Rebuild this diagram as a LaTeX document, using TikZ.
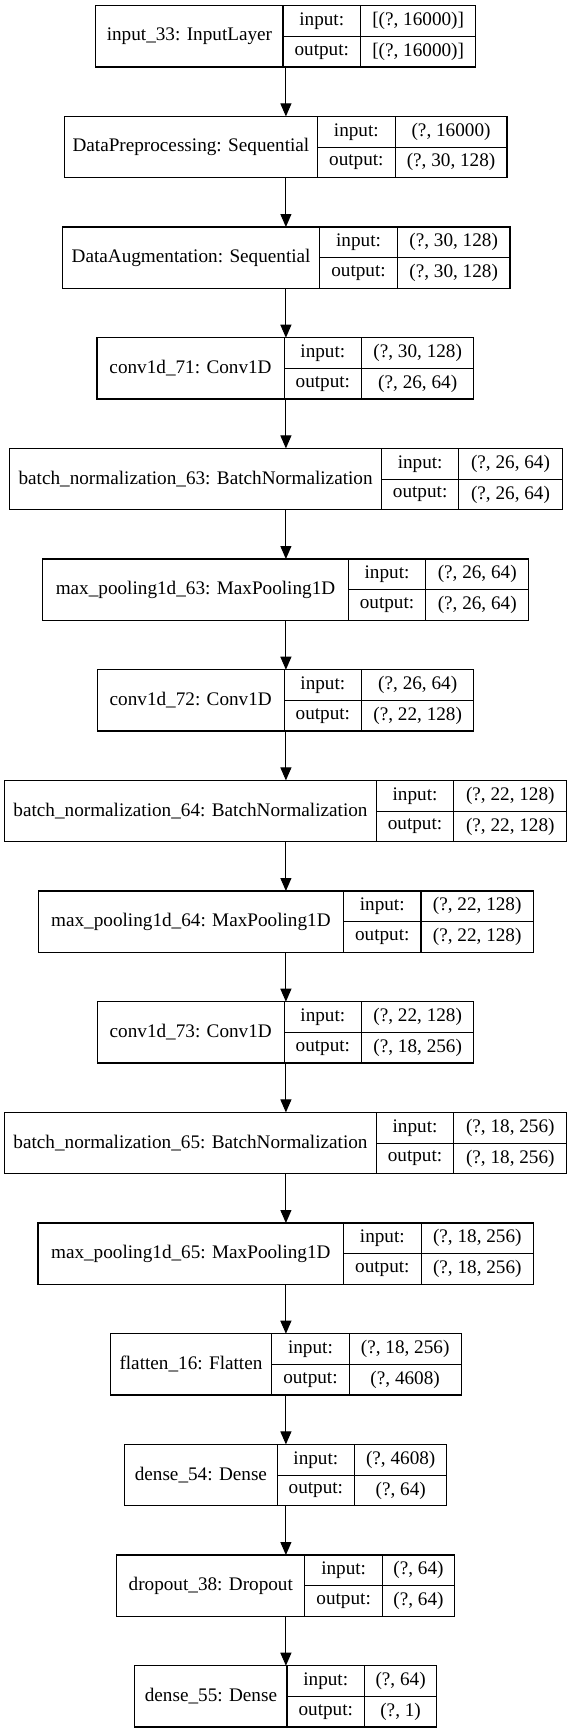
\documentclass[tikz,border=0pt]{standalone}
\usepackage{fontspec}
\setmainfont{Liberation Serif}
\usetikzlibrary{positioning,arrows.meta}

\begin{document}
\begin{tikzpicture}[x=1pt,y=-1pt,
        every node/.style={draw, line width=1.1pt, inner sep=0pt, outer sep=0pt,
            font=\fontsize{19.2}{23}\selectfont},
        layer/.style={anchor=north west, minimum height=61.3pt},
        lbl/.style={anchor=north west, minimum width=77.5pt, minimum height=30.65pt},
        val/.style={minimum height=30.65pt},
        arr/.style={-{Triangle[length=13pt,width=11pt]}, line width=1.1pt}]
        \useasboundingbox (0,0) rectangle (571,1733);
        \coordinate (axis) at (285.9,0);

        \node[layer, minimum width=187.1pt] (input) at (95.9,5.7) {input\_33: InputLayer};
        \node[lbl] (input-in) at (input.north east) {input:};
        \node[lbl, below=0pt of input-in] (input-out) {output:};
        \node[val, minimum width=115.3pt, right=0pt of input-in] (input-inv) {[(?, 16000)]};
        \node[val, minimum width=115.3pt, right=0pt of input-out] (input-outv) {[(?, 16000)]};

        \node[layer, minimum width=253.4pt] (prep) at (64.2,116.4) {DataPreprocessing: Sequential};
        \node[lbl] (prep-in) at (prep.north east) {input:};
        \node[lbl, below=0pt of prep-in] (prep-out) {output:};
        \node[val, minimum width=111.9pt, right=0pt of prep-in] (prep-inv) {(?, 16000)};
        \node[val, minimum width=111.9pt, right=0pt of prep-out] (prep-outv) {(?, 30, 128)};

        \node[layer, minimum width=257.4pt] (aug) at (62.4,227) {DataAugmentation: Sequential};
        \node[lbl] (aug-in) at (aug.north east) {input:};
        \node[lbl, below=0pt of aug-in] (aug-out) {output:};
        \node[val, minimum width=112.7pt, right=0pt of aug-in] (aug-inv) {(?, 30, 128)};
        \node[val, minimum width=112.7pt, right=0pt of aug-out] (aug-outv) {(?, 30, 128)};

        \node[layer, minimum width=187.1pt] (conva) at (97,337.7) {conv1d\_71: Conv1D};
        \node[lbl] (conva-in) at (conva.north east) {input:};
        \node[lbl, below=0pt of conva-in] (conva-out) {output:};
        \node[val, minimum width=112.2pt, right=0pt of conva-in] (conva-inv) {(?, 30, 128)};
        \node[val, minimum width=112.2pt, right=0pt of conva-out] (conva-outv) {(?, 26, 64)};

        \node[layer, minimum width=371.6pt] (bna) at (9.8,448.4) {batch\_normalization\_63: BatchNormalization};
        \node[lbl] (bna-in) at (bna.north east) {input:};
        \node[lbl, below=0pt of bna-in] (bna-out) {output:};
        \node[val, minimum width=103.2pt, right=0pt of bna-in] (bna-inv) {(?, 26, 64)};
        \node[val, minimum width=103.2pt, right=0pt of bna-out] (bna-outv) {(?, 26, 64)};

        \node[layer, minimum width=305.6pt] (poola) at (42.7,559) {max\_pooling1d\_63: MaxPooling1D};
        \node[lbl] (poola-in) at (poola.north east) {input:};
        \node[lbl, below=0pt of poola-in] (poola-out) {output:};
        \node[val, minimum width=102.8pt, right=0pt of poola-in] (poola-inv) {(?, 26, 64)};
        \node[val, minimum width=102.8pt, right=0pt of poola-out] (poola-outv) {(?, 26, 64)};

        \node[layer, minimum width=186.7pt] (convb) at (97.4,669.7) {conv1d\_72: Conv1D};
        \node[lbl] (convb-in) at (convb.north east) {input:};
        \node[lbl, below=0pt of convb-in] (convb-out) {output:};
        \node[val, minimum width=112.2pt, right=0pt of convb-in] (convb-inv) {(?, 26, 64)};
        \node[val, minimum width=112.2pt, right=0pt of convb-out] (convb-outv) {(?, 22, 128)};

        \node[layer, minimum width=371.6pt] (bnb) at (4.7,780.4) {batch\_normalization\_64: BatchNormalization};
        \node[lbl] (bnb-in) at (bnb.north east) {input:};
        \node[lbl, below=0pt of bnb-in] (bnb-out) {output:};
        \node[val, minimum width=113pt, right=0pt of bnb-in] (bnb-inv) {(?, 22, 128)};
        \node[val, minimum width=113pt, right=0pt of bnb-out] (bnb-outv) {(?, 22, 128)};

        \node[layer, minimum width=305.2pt] (poolb) at (38.3,891) {max\_pooling1d\_64: MaxPooling1D};
        \node[lbl] (poolb-in) at (poolb.north east) {input:};
        \node[lbl, below=0pt of poolb-in] (poolb-out) {output:};
        \node[val, minimum width=112.4pt, right=0pt of poolb-in] (poolb-inv) {(?, 22, 128)};
        \node[val, minimum width=112.4pt, right=0pt of poolb-out] (poolb-outv) {(?, 22, 128)};

        \node[layer, minimum width=186.7pt] (convc) at (97.4,1001.7) {conv1d\_73: Conv1D};
        \node[lbl] (convc-in) at (convc.north east) {input:};
        \node[lbl, below=0pt of convc-in] (convc-out) {output:};
        \node[val, minimum width=112.2pt, right=0pt of convc-in] (convc-inv) {(?, 22, 128)};
        \node[val, minimum width=112.2pt, right=0pt of convc-out] (convc-outv) {(?, 18, 256)};

        \node[layer, minimum width=371.6pt] (bnc) at (4.7,1112.4) {batch\_normalization\_65: BatchNormalization};
        \node[lbl] (bnc-in) at (bnc.north east) {input:};
        \node[lbl, below=0pt of bnc-in] (bnc-out) {output:};
        \node[val, minimum width=113pt, right=0pt of bnc-in] (bnc-inv) {(?, 18, 256)};
        \node[val, minimum width=113pt, right=0pt of bnc-out] (bnc-outv) {(?, 18, 256)};

        \node[layer, minimum width=305.6pt] (poolc) at (38,1223) {max\_pooling1d\_65: MaxPooling1D};
        \node[lbl] (poolc-in) at (poolc.north east) {input:};
        \node[lbl, below=0pt of poolc-in] (poolc-out) {output:};
        \node[val, minimum width=112.4pt, right=0pt of poolc-in] (poolc-inv) {(?, 18, 256)};
        \node[val, minimum width=112.4pt, right=0pt of poolc-out] (poolc-outv) {(?, 18, 256)};

        \node[layer, minimum width=161.5pt] (flat) at (110.2,1333.7) {flatten\_16: Flatten};
        \node[lbl] (flat-in) at (flat.north east) {input:};
        \node[lbl, below=0pt of flat-in] (flat-out) {output:};
        \node[val, minimum width=111.9pt, right=0pt of flat-in] (flat-inv) {(?, 18, 256)};
        \node[val, minimum width=111.9pt, right=0pt of flat-out] (flat-outv) {(?, 4608)};

        \node[layer, minimum width=152.4pt] (densea) at (124.7,1444.4) {dense\_54: Dense};
        \node[lbl] (densea-in) at (densea.north east) {input:};
        \node[lbl, below=0pt of densea-in] (densea-out) {output:};
        \node[val, minimum width=92.2pt, right=0pt of densea-in] (densea-inv) {(?, 4608)};
        \node[val, minimum width=92.2pt, right=0pt of densea-out] (densea-outv) {(?, 64)};

        \node[layer, minimum width=188.2pt] (drop) at (116.7,1555) {dropout\_38: Dropout};
        \node[lbl] (drop-in) at (drop.north east) {input:};
        \node[lbl, below=0pt of drop-in] (drop-out) {output:};
        \node[val, minimum width=72.2pt, right=0pt of drop-in] (drop-inv) {(?, 64)};
        \node[val, minimum width=72.2pt, right=0pt of drop-out] (drop-outv) {(?, 64)};

        \node[layer, minimum width=152.1pt] (denseb) at (134.9,1665.7) {dense\_55: Dense};
        \node[lbl] (denseb-in) at (denseb.north east) {input:};
        \node[lbl, below=0pt of denseb-in] (denseb-out) {output:};
        \node[val, minimum width=72.2pt, right=0pt of denseb-in] (denseb-inv) {(?, 64)};
        \node[val, minimum width=72.2pt, right=0pt of denseb-out] (denseb-outv) {(?, 1)};

        \draw[arr] (input.south -| axis) -- (prep.north -| axis);
        \draw[arr] (prep.south -| axis) -- (aug.north -| axis);
        \draw[arr] (aug.south -| axis) -- (conva.north -| axis);
        \draw[arr] (conva.south -| axis) -- (bna.north -| axis);
        \draw[arr] (bna.south -| axis) -- (poola.north -| axis);
        \draw[arr] (poola.south -| axis) -- (convb.north -| axis);
        \draw[arr] (convb.south -| axis) -- (bnb.north -| axis);
        \draw[arr] (bnb.south -| axis) -- (poolb.north -| axis);
        \draw[arr] (poolb.south -| axis) -- (convc.north -| axis);
        \draw[arr] (convc.south -| axis) -- (bnc.north -| axis);
        \draw[arr] (bnc.south -| axis) -- (poolc.north -| axis);
        \draw[arr] (poolc.south -| axis) -- (flat.north -| axis);
        \draw[arr] (flat.south -| axis) -- (densea.north -| axis);
        \draw[arr] (densea.south -| axis) -- (drop.north -| axis);
        \draw[arr] (drop.south -| axis) -- (denseb.north -| axis);
    \end{tikzpicture}
\end{document}
